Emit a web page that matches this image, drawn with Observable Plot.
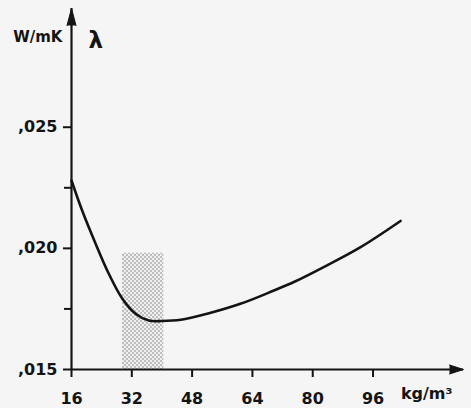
<!DOCTYPE html>
<html>
<head>
<meta charset="utf-8">
<script src="https://cdn.jsdelivr.net/npm/d3@7"></script>
<script src="https://cdn.jsdelivr.net/npm/@observablehq/plot@0.6"></script>
<style>
  html, body { margin: 0; padding: 0; background: #f5f5f5; }
</style>
</head>
<body>
<div id="chart"></div>
<script>
// density (kg/m³) and thermal conductivity λ (W/mK)
const densities = [16, 18.8, 22.4, 25.9, 29.5, 33, 36.5, 40, 45, 52, 60.8, 69.7, 75, 83.8, 92.7, 103.3];
const lambdas = [0.0228, 0.02157, 0.02019, 0.01895, 0.01792, 0.0173, 0.01702, 0.0170, 0.01705, 0.0173, 0.01771, 0.01826, 0.01861, 0.0193, 0.02005, 0.02113];

// optimal (shaded) density band
const bandX = [29.5, 40.5];
const bandY = [0.015, 0.0198];

const xTicks = [16, 32, 48, 64, 80, 96];
const yTicks = [0.015, 0.020, 0.025];
const yMinorTicks = [0.0175, 0.0225];
const xDomain = [16, 120];
const yDomain = [0.015, 0.0299];

const curve = densities.map((d, i) => ({density: d, lambda: lambdas[i]}));
const band = [{x1: bandX[0], x2: bandX[1], y1: bandY[0], y2: bandY[1]}];
const ink = "#141414";
const font = "'DejaVu Sans', sans-serif";
const yFmt = d => "," + d3.format(".3f")(d).slice(2);

const W = 471, H = 408, mL = 71, mR = 8, mT = 8, mB = 39;
const frameW = W - mL - mR, frameH = H - mT - mB;

const chart = Plot.plot({
  width: W,
  height: H,
  marginLeft: mL,
  marginRight: mR,
  marginTop: mT,
  marginBottom: mB,
  style: {fontFamily: font, fontSize: "16px", fontWeight: "bold", background: "#f5f5f5", color: ink},
  x: {domain: xDomain, axis: null},
  y: {domain: yDomain, axis: null},
  marks: [
    Plot.rect(band, {x1: "x1", x2: "x2", y1: "y1", y2: "y2", fill: "url(#stipple)"}),
    // tick marks hanging off the axes
    Plot.tickX(xTicks.map(v => ({v})), {x: "v", stroke: ink, strokeWidth: 2, insetTop: frameH, insetBottom: -8}),
    Plot.tickY(yTicks.map(v => ({v})), {y: "v", stroke: ink, strokeWidth: 2, insetRight: frameW, insetLeft: -8}),
    Plot.tickY(yMinorTicks.map(v => ({v})), {y: "v", stroke: ink, strokeWidth: 2, insetRight: frameW, insetLeft: -7}),
    // tick labels
    Plot.text(xTicks, {x: d => d, y: yDomain[0], dy: 29, text: d => String(d), fontSize: 16, fontWeight: "bold", fill: ink}),
    Plot.text(yTicks, {x: xDomain[0], y: d => d, dx: -14, textAnchor: "end", text: yFmt, fontSize: 16, fontWeight: "bold", fill: ink}),
    // axis lines with arrowheads
    Plot.ruleX([xDomain[0]], {y1: yDomain[0], y2: yDomain[1], stroke: ink, strokeWidth: 2.2}),
    Plot.ruleY([yDomain[0]], {x1: xDomain[0], x2: xDomain[1], stroke: ink, strokeWidth: 2.2}),
    Plot.vector([{x: xDomain[0], y: yDomain[1]}], {x: "x", y: "y", shape: "spike", anchor: "end", length: 17, r: 4.5, fill: ink, stroke: ink, strokeWidth: 1, rotate: 0}),
    Plot.vector([{x: xDomain[1], y: yDomain[0]}], {x: "x", y: "y", shape: "spike", anchor: "end", length: 14, r: 4.5, fill: ink, stroke: ink, strokeWidth: 1, rotate: 90}),
    Plot.line(curve, {x: "density", y: "lambda", curve: "catmull-rom", stroke: ink, strokeWidth: 2.6}),
    Plot.text(["W/mK"], {frameAnchor: "top-left", dx: -9, dy: 23, textAnchor: "end", fontSize: 15, fontWeight: "bold", fill: ink}),
    Plot.text(["λ"], {frameAnchor: "top-left", dx: 17, dy: 23, textAnchor: "start", fontSize: 23, fontWeight: "bold", fill: ink}),
    Plot.text(["kg/m³"], {frameAnchor: "bottom-right", dx: -11, dy: 29, textAnchor: "end", fontSize: 16, fontWeight: "bold", fill: ink})
  ]
});

d3.select(chart).insert("defs", ":first-child").html(
  `<pattern id="stipple" width="4" height="4" patternUnits="userSpaceOnUse">
     <rect width="4" height="4" fill="#f0f0f0"></rect>
     <circle cx="1" cy="1" r="0.65" fill="#606060"></circle>
     <circle cx="3" cy="3" r="0.65" fill="#606060"></circle>
   </pattern>`
);

document.getElementById("chart").appendChild(chart);
</script>
</body>
</html>
